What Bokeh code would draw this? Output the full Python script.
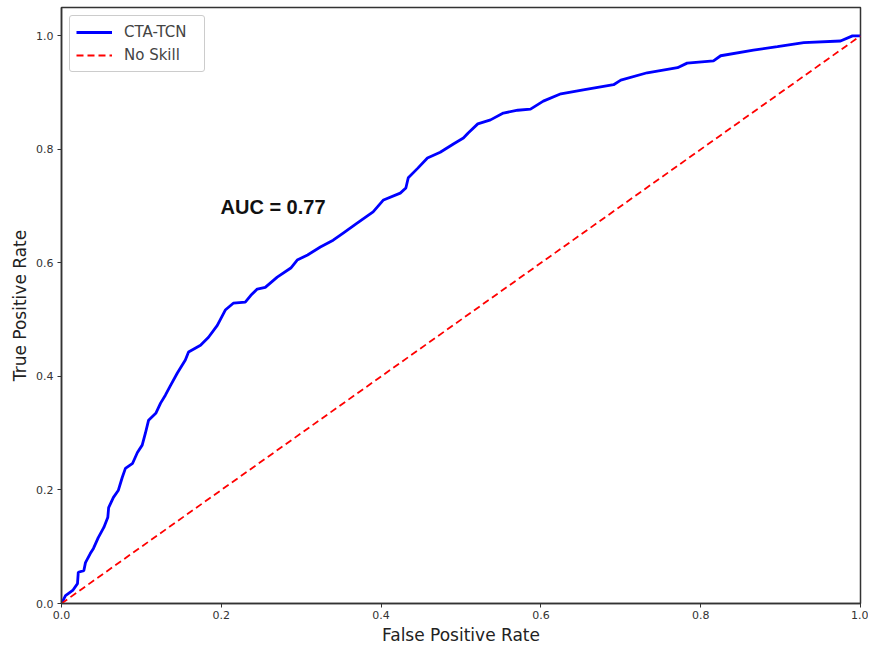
from bokeh.plotting import figure
from bokeh.models import Range1d, FixedTicker, Legend, LegendItem, Label, PrintfTickFormatter
from bokeh.embed import file_html
from bokeh.resources import INLINE

fpr = [0.0, 0.005, 0.014, 0.020, 0.021, 0.028, 0.030, 0.036, 0.040, 0.046, 0.053, 0.058,
       0.059, 0.065, 0.071, 0.076, 0.080, 0.089, 0.095, 0.101, 0.105, 0.109, 0.118, 0.124,
       0.130, 0.136, 0.145, 0.155, 0.159, 0.174, 0.184, 0.195, 0.205, 0.215, 0.230, 0.237,
       0.245, 0.255, 0.270, 0.287, 0.295, 0.308, 0.324, 0.340, 0.353, 0.370, 0.390, 0.403,
       0.424, 0.431, 0.434, 0.446, 0.458, 0.474, 0.491, 0.503, 0.509, 0.521, 0.537, 0.553,
       0.571, 0.587, 0.603, 0.625, 0.653, 0.691, 0.700, 0.733, 0.771, 0.783, 0.816, 0.825,
       0.866, 0.896, 0.929, 0.975, 0.990, 1.0]
tpr = [0.0, 0.014, 0.023, 0.035, 0.055, 0.058, 0.072, 0.088, 0.097, 0.116, 0.134, 0.152,
       0.169, 0.187, 0.199, 0.222, 0.238, 0.247, 0.266, 0.279, 0.300, 0.323, 0.335, 0.353,
       0.367, 0.383, 0.406, 0.429, 0.443, 0.455, 0.469, 0.490, 0.517, 0.529, 0.531, 0.543,
       0.554, 0.557, 0.575, 0.591, 0.605, 0.614, 0.628, 0.640, 0.653, 0.670, 0.690, 0.711,
       0.723, 0.732, 0.750, 0.767, 0.785, 0.795, 0.810, 0.820, 0.829, 0.845, 0.852, 0.864,
       0.869, 0.871, 0.885, 0.898, 0.905, 0.914, 0.922, 0.935, 0.944, 0.952, 0.956, 0.965,
       0.975, 0.981, 0.988, 0.991, 1.000, 1.0]
noskill_x = [0.0, 1.0]
noskill_y = [0.0, 1.0]
ticks = [0.0, 0.2, 0.4, 0.6, 0.8, 1.0]
auc_text = "AUC = 0.77"

p = figure(width=868, height=647, output_backend="svg", toolbar_location=None,
           x_range=Range1d(0, 1), y_range=Range1d(0, 1.05),
           min_border_left=61, min_border_right=8, min_border_top=7, min_border_bottom=40)
p.grid.visible = False
p.outline_line_color = "#333333"
p.outline_line_width = 1.5

for ax in (p.xaxis, p.yaxis):
    ax.ticker = FixedTicker(ticks=ticks)
    ax.formatter = PrintfTickFormatter(format="%.1f")
    ax.minor_tick_line_color = None
    ax.major_tick_in = 0
    ax.major_tick_out = 4
    ax.axis_line_color = "#333333"
    ax.axis_line_width = 1.5
    ax.major_tick_line_color = "#333333"
    ax.major_label_text_font = "DejaVu Sans"
    ax.major_label_text_font_size = "11px"
    ax.major_label_text_color = "#333333"
    ax.axis_label_text_font = "DejaVu Sans"
    ax.axis_label_text_font_size = "17px"
    ax.axis_label_text_font_style = "normal"
    ax.axis_label_text_color = "#222222"
p.xaxis.axis_label = "False Positive Rate"
p.yaxis.axis_label = "True Positive Rate"
p.xaxis.major_label_standoff = 3
p.yaxis.major_label_standoff = 4
p.xaxis.axis_label_standoff = 3
p.yaxis.axis_label_standoff = 3

r1 = p.line(fpr, tpr, line_color="blue", line_width=2.8)
r2 = p.line(noskill_x, noskill_y, line_color="red", line_width=1.8, line_dash="7 4")

legend = Legend(items=[LegendItem(label="CTA-TCN", renderers=[r1]),
                       LegendItem(label="No Skill", renderers=[r2])],
                location="top_left")
legend.label_text_font = "DejaVu Sans"
legend.label_text_font_size = "15px"
legend.border_line_color = "#cccccc"
legend.border_line_alpha = 1
legend.border_radius = 3
legend.glyph_width = 36
legend.label_standoff = 12
legend.label_width = 74
legend.spacing = 3
legend.padding = 6
legend.margin = 8
p.add_layout(legend)

p.add_layout(Label(x=0.199, y=0.698, text=auc_text, text_font="Liberation Sans",
                   text_font_style="bold", text_font_size="20px", text_baseline="middle",
                   text_color="#111111"))

open("out.html", "w").write(file_html(p, INLINE))
